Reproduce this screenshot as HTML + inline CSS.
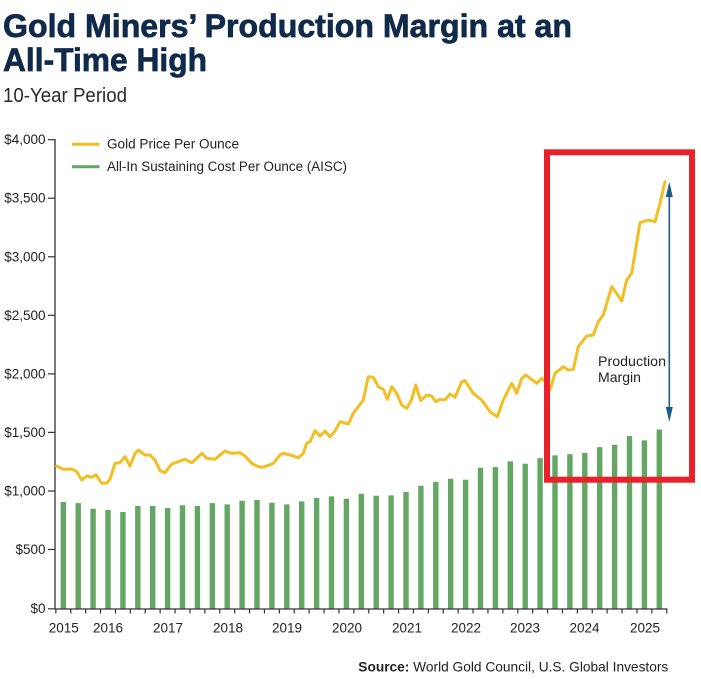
<!DOCTYPE html>
<html>
<head>
<meta charset="utf-8">
<style>
html,body{margin:0;padding:0;background:#fff;}
svg{display:block;}
</style>
</head>
<body>
<svg width="701" height="679" viewBox="0 0 701 679" xmlns="http://www.w3.org/2000/svg">
<rect x="0" y="0" width="701" height="679" fill="#ffffff"/>
<!-- Title -->
<text x="3" y="37" font-family="Liberation Sans, sans-serif" font-weight="bold" font-size="32" fill="#0f2a4a" stroke="#0f2a4a" stroke-width="0.7" textLength="569" lengthAdjust="spacingAndGlyphs">Gold Miners’ Production Margin at an</text>
<text x="3" y="71" font-family="Liberation Sans, sans-serif" font-weight="bold" font-size="32" fill="#0f2a4a" stroke="#0f2a4a" stroke-width="0.7" textLength="204" lengthAdjust="spacingAndGlyphs">All-Time High</text>
<text x="3" y="102" font-family="Liberation Sans, sans-serif" font-size="20" fill="#2a2a2a" textLength="124" lengthAdjust="spacingAndGlyphs">10-Year Period</text>

<!-- Legend -->
<line x1="72" y1="144.3" x2="99.5" y2="144.3" stroke="#f2be22" stroke-width="3"/>
<text x="107" y="148.5" font-family="Liberation Sans, sans-serif" font-size="13.5" fill="#222" textLength="132" lengthAdjust="spacingAndGlyphs">Gold Price Per Ounce</text>
<line x1="72" y1="166.8" x2="99.5" y2="166.8" stroke="#64a664" stroke-width="3"/>
<text x="107" y="171.2" font-family="Liberation Sans, sans-serif" font-size="13.5" fill="#222" textLength="240" lengthAdjust="spacingAndGlyphs">All-In Sustaining Cost Per Ounce (AISC)</text>

<!-- Y axis labels -->
<g font-family="Liberation Sans, sans-serif" font-size="13.5" fill="#222" text-anchor="end">
<text x="45.5" y="144.2">$4,000</text>
<text x="45.5" y="202.7">$3,500</text>
<text x="45.5" y="261.3">$3,000</text>
<text x="45.5" y="319.8">$2,500</text>
<text x="45.5" y="378.4">$2,000</text>
<text x="45.5" y="436.9">$1,500</text>
<text x="45.5" y="495.5">$1,000</text>
<text x="45.5" y="554">$500</text>
<text x="45.5" y="612.8">$0</text>
</g>
<g stroke="#333" stroke-width="1.2">
<line x1="48" y1="139.7" x2="55" y2="139.7"/>
<line x1="48" y1="198.2" x2="55" y2="198.2"/>
<line x1="48" y1="256.8" x2="55" y2="256.8"/>
<line x1="48" y1="315.3" x2="55" y2="315.3"/>
<line x1="48" y1="373.9" x2="55" y2="373.9"/>
<line x1="48" y1="432.4" x2="55" y2="432.4"/>
<line x1="48" y1="491" x2="55" y2="491"/>
<line x1="48" y1="549.5" x2="55" y2="549.5"/>
<line x1="48" y1="608.8" x2="55" y2="608.8"/>
</g>

<!-- Bars -->
<path fill="none" stroke="#64a664" stroke-width="5.4" stroke-linecap="butt" d="
M63.3 608.5V502.02 M78.2 608.5V503.07 M93.1 608.5V508.7 M108 608.5V509.99 M122.9 608.5V511.98
M137.8 608.5V506 M152.7 608.5V506 M167.6 608.5V507.99 M182.5 608.5V505.3 M197.4 608.5V506
M212.3 608.5V503.07 M227.2 608.5V504.36 M242.1 608.5V500.73 M257 608.5V500.03 M271.9 608.5V502.72
M286.8 608.5V504.36 M301.7 608.5V501.32 M316.6 608.5V498.04 M331.5 608.5V496.4 M346.4 608.5V498.74
M361.3 608.5V493.7 M376.2 608.5V495.69 M391.1 608.5V495.34 M406 608.5V492.06 M420.9 608.5V485.74
M435.8 608.5V481.99 M450.7 608.5V478.71 M465.6 608.5V479.76 M480.5 608.5V467.7 M495.4 608.5V467.11
M510.3 608.5V461.37 M525.2 608.5V463.72 M540.1 608.5V458.09 M555 608.5V455.4 M569.9 608.5V454.11
M584.8 608.5V453.06 M599.7 608.5V447.08 M614.6 608.5V444.74 M629.5 608.5V436.07 M644.4 608.5V440.41
M659.3 608.5V429.51"/>

<!-- Axes -->
<line x1="55" y1="139" x2="55" y2="609.5" stroke="#333" stroke-width="1.3"/>
<line x1="55" y1="609" x2="667.5" y2="609" stroke="#333" stroke-width="1.3"/>
<path fill="none" stroke="#333" stroke-width="1.2" d="
M55.85 609v4.5 M70.75 609v4.5 M85.65 609v4.5 M100.55 609v4.5 M115.45 609v4.5 M130.35 609v4.5
M145.25 609v4.5 M160.15 609v4.5 M175.05 609v4.5 M189.95 609v4.5 M204.85 609v4.5 M219.75 609v4.5
M234.65 609v4.5 M249.55 609v4.5 M264.45 609v4.5 M279.35 609v4.5 M294.25 609v4.5 M309.15 609v4.5
M324.05 609v4.5 M338.95 609v4.5 M353.85 609v4.5 M368.75 609v4.5 M383.65 609v4.5 M398.55 609v4.5
M413.45 609v4.5 M428.35 609v4.5 M443.25 609v4.5 M458.15 609v4.5 M473.05 609v4.5 M487.95 609v4.5
M502.85 609v4.5 M517.75 609v4.5 M532.65 609v4.5 M547.55 609v4.5 M562.45 609v4.5 M577.35 609v4.5
M592.25 609v4.5 M607.15 609v4.5 M622.05 609v4.5 M636.95 609v4.5 M651.85 609v4.5 M666.75 609v4.5"/>

<!-- X labels -->
<g font-family="Liberation Sans, sans-serif" font-size="13.5" fill="#222" text-anchor="middle">
<text x="63.8" y="632.5">2015</text>
<text x="108" y="632.5">2016</text>
<text x="168" y="632.5">2017</text>
<text x="228" y="632.5">2018</text>
<text x="287" y="632.5">2019</text>
<text x="347" y="632.5">2020</text>
<text x="407" y="632.5">2021</text>
<text x="466" y="632.5">2022</text>
<text x="525" y="632.5">2023</text>
<text x="584.5" y="632.5">2024</text>
<text x="645" y="632.5">2025</text>
</g>

<!-- Gold line -->
<polyline fill="none" stroke="#f2be22" stroke-width="3" stroke-linejoin="round" stroke-linecap="round" points="56.5,466 63.3,469.3 71.7,469 76.7,471.7 81.7,480 86.7,476 91.7,477.3 96,474.7 101.7,483.3 106.7,483.3 110,479.3 115,463.3 120,462.7 125,456.7 130,466 135,453.3 138.3,450 145,455 150,455 155,460 160,470.7 165,472.7 171.7,464 178.3,461.7 185,459.3 191.7,462.7 196.7,458.3 201.7,453.3 206.7,458.3 215,459.3 225,451 231.7,453.3 240,452.7 245,456 251.7,463.3 256.7,466 261.7,467.3 266.7,466 273.3,463.3 280,455 283.3,453.3 290,455 298.3,457.7 303.3,453.3 306.7,443.3 310,441.7 315,430.7 320,436 325,431 330,436.7 335,431 340,421.7 348.3,424 353.3,413.3 358.3,406.7 363.3,400 368.3,376.7 373.3,377.3 378.3,386.7 383.3,389.3 387.3,399.3 391.7,386.7 396.7,393.3 401.7,405 406.7,408.3 411.7,399.3 415.7,385 420.7,400.7 426.7,395 431.7,396 435.7,401.7 440,399.3 445,400 450,394 455,397.3 461.7,381.7 465,380.7 473,393 481.7,400 490,411.7 497.3,416.7 503.3,400 511.7,383.3 516.7,393.3 521.7,378.3 526,375 536.7,383.3 541.7,378.3 545,381.7 550,390 555,373.3 563.3,366.7 568.3,370 573.3,369.3 578.3,346.7 586.7,336 593.3,335 598.3,321.7 603.3,315 611.7,286.7 616.7,293.3 621.7,301 626.7,280 631.7,273.3 640,222.7 648.3,220 655,221.7 660,203.3 665,181.7"/>

<!-- Red box -->
<rect x="547" y="152.3" width="145" height="327.4" fill="none" stroke="#e8212b" stroke-width="6"/>

<!-- Arrow -->
<line x1="669.3" y1="194" x2="669.3" y2="410" stroke="#1d5a85" stroke-width="1.6"/>
<polygon points="669.3,181.7 665.8,197 672.8,197" fill="#1d5a85"/>
<polygon points="669.3,422 665.8,407 672.8,407" fill="#1d5a85"/>

<text x="598" y="366" font-family="Liberation Sans, sans-serif" font-size="14" fill="#222" textLength="68" lengthAdjust="spacingAndGlyphs">Production</text>
<text x="598" y="382" font-family="Liberation Sans, sans-serif" font-size="14" fill="#222" textLength="43" lengthAdjust="spacingAndGlyphs">Margin</text>

<!-- Source -->
<text x="358.3" y="671.5" font-family="Liberation Sans, sans-serif" font-size="14" fill="#222" textLength="310" lengthAdjust="spacingAndGlyphs"><tspan font-weight="bold">Source:</tspan> World Gold Council, U.S. Global Investors</text>
</svg>
</body>
</html>
